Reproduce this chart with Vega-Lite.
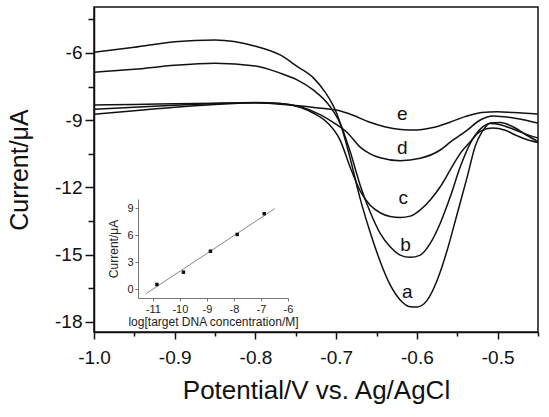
{
  "$schema": "https://vega.github.io/schema/vega-lite/v6.json",
  "autosize": {"type": "none"},
  "width": 444,
  "height": 325,
  "padding": {"left": 94, "top": 7, "right": 11, "bottom": 85},
  "background": "white",
  "config": {
    "view": {"stroke": "#111", "strokeWidth": 1.5},
    "font": "Liberation Sans",
    "axis": {"grid": false, "labelFont": "Liberation Sans", "titleFont": "Liberation Sans", "titleFontWeight": "normal"}
  },
  "datasets": {
    "curves": [
      {"curve": "a", "V": -1.0, "I": -5.97}, {"curve": "a", "V": -0.95, "I": -5.75}, {"curve": "a", "V": -0.9, "I": -5.5}, {"curve": "a", "V": -0.85, "I": -5.42}, {"curve": "a", "V": -0.8, "I": -5.7}, {"curve": "a", "V": -0.7694, "I": -6.09}, {"curve": "a", "V": -0.7484, "I": -6.6}, {"curve": "a", "V": -0.7285, "I": -7.1}, {"curve": "a", "V": -0.7137, "I": -7.75}, {"curve": "a", "V": -0.7037, "I": -8.35}, {"curve": "a", "V": -0.6988, "I": -8.75}, {"curve": "a", "V": -0.6914, "I": -9.55}, {"curve": "a", "V": -0.6827, "I": -10.7}, {"curve": "a", "V": -0.6703, "I": -12.5}, {"curve": "a", "V": -0.6579, "I": -14.0}, {"curve": "a", "V": -0.6455, "I": -15.3}, {"curve": "a", "V": -0.6331, "I": -16.35}, {"curve": "a", "V": -0.6207, "I": -17.02}, {"curve": "a", "V": -0.6083, "I": -17.32}, {"curve": "a", "V": -0.5996, "I": -17.33}, {"curve": "a", "V": -0.5872, "I": -17.03}, {"curve": "a", "V": -0.5748, "I": -16.13}, {"curve": "a", "V": -0.5624, "I": -14.79}, {"curve": "a", "V": -0.55, "I": -13.16}, {"curve": "a", "V": -0.5376, "I": -11.52}, {"curve": "a", "V": -0.5277, "I": -10.15}, {"curve": "a", "V": -0.519, "I": -9.5}, {"curve": "a", "V": -0.5091, "I": -9.12}, {"curve": "a", "V": -0.4967, "I": -9.1}, {"curve": "a", "V": -0.4781, "I": -9.35}, {"curve": "a", "V": -0.465, "I": -9.65}, {"curve": "a", "V": -0.45, "I": -9.95},
      {"curve": "b", "V": -1.0, "I": -6.86}, {"curve": "b", "V": -0.95, "I": -6.73}, {"curve": "b", "V": -0.9, "I": -6.55}, {"curve": "b", "V": -0.85, "I": -6.46}, {"curve": "b", "V": -0.8, "I": -6.58}, {"curve": "b", "V": -0.7694, "I": -6.9}, {"curve": "b", "V": -0.7484, "I": -7.2}, {"curve": "b", "V": -0.7285, "I": -7.65}, {"curve": "b", "V": -0.7074, "I": -8.4}, {"curve": "b", "V": -0.695, "I": -9.15}, {"curve": "b", "V": -0.6827, "I": -10.4}, {"curve": "b", "V": -0.6703, "I": -11.9}, {"curve": "b", "V": -0.6579, "I": -13.1}, {"curve": "b", "V": -0.6455, "I": -14.05}, {"curve": "b", "V": -0.6331, "I": -14.65}, {"curve": "b", "V": -0.6207, "I": -15.02}, {"curve": "b", "V": -0.6083, "I": -15.12}, {"curve": "b", "V": -0.5958, "I": -15.02}, {"curve": "b", "V": -0.5835, "I": -14.5}, {"curve": "b", "V": -0.5711, "I": -13.6}, {"curve": "b", "V": -0.5587, "I": -12.42}, {"curve": "b", "V": -0.5463, "I": -11.08}, {"curve": "b", "V": -0.5339, "I": -10.03}, {"curve": "b", "V": -0.5215, "I": -9.4}, {"curve": "b", "V": -0.5091, "I": -9.15}, {"curve": "b", "V": -0.4967, "I": -9.2}, {"curve": "b", "V": -0.4781, "I": -9.44}, {"curve": "b", "V": -0.465, "I": -9.62}, {"curve": "b", "V": -0.45, "I": -9.8},
      {"curve": "c", "V": -1.0, "I": -8.74}, {"curve": "c", "V": -0.95, "I": -8.58}, {"curve": "c", "V": -0.9, "I": -8.42}, {"curve": "c", "V": -0.85, "I": -8.3}, {"curve": "c", "V": -0.8, "I": -8.22}, {"curve": "c", "V": -0.7694, "I": -8.25}, {"curve": "c", "V": -0.7446, "I": -8.42}, {"curve": "c", "V": -0.7285, "I": -8.68}, {"curve": "c", "V": -0.7112, "I": -9.1}, {"curve": "c", "V": -0.695, "I": -9.9}, {"curve": "c", "V": -0.6827, "I": -11.1}, {"curve": "c", "V": -0.6703, "I": -12.15}, {"curve": "c", "V": -0.6579, "I": -12.8}, {"curve": "c", "V": -0.6455, "I": -13.13}, {"curve": "c", "V": -0.6331, "I": -13.3}, {"curve": "c", "V": -0.6207, "I": -13.34}, {"curve": "c", "V": -0.6083, "I": -13.28}, {"curve": "c", "V": -0.5958, "I": -13.0}, {"curve": "c", "V": -0.5835, "I": -12.56}, {"curve": "c", "V": -0.5711, "I": -11.97}, {"curve": "c", "V": -0.5587, "I": -11.22}, {"curve": "c", "V": -0.5463, "I": -10.48}, {"curve": "c", "V": -0.5339, "I": -9.96}, {"curve": "c", "V": -0.5215, "I": -9.5}, {"curve": "c", "V": -0.5066, "I": -9.35}, {"curve": "c", "V": -0.4905, "I": -9.45}, {"curve": "c", "V": -0.4781, "I": -9.66}, {"curve": "c", "V": -0.465, "I": -9.85}, {"curve": "c", "V": -0.45, "I": -10.0},
      {"curve": "d", "V": -1.0, "I": -8.51}, {"curve": "d", "V": -0.95, "I": -8.42}, {"curve": "d", "V": -0.9, "I": -8.33}, {"curve": "d", "V": -0.85, "I": -8.26}, {"curve": "d", "V": -0.8, "I": -8.21}, {"curve": "d", "V": -0.7694, "I": -8.25}, {"curve": "d", "V": -0.7446, "I": -8.4}, {"curve": "d", "V": -0.7198, "I": -8.75}, {"curve": "d", "V": -0.7037, "I": -9.1}, {"curve": "d", "V": -0.6864, "I": -9.55}, {"curve": "d", "V": -0.6703, "I": -10.2}, {"curve": "d", "V": -0.6579, "I": -10.5}, {"curve": "d", "V": -0.6455, "I": -10.68}, {"curve": "d", "V": -0.6207, "I": -10.81}, {"curve": "d", "V": -0.5958, "I": -10.7}, {"curve": "d", "V": -0.5711, "I": -10.33}, {"curve": "d", "V": -0.5587, "I": -9.98}, {"curve": "d", "V": -0.5376, "I": -9.44}, {"curve": "d", "V": -0.5215, "I": -8.99}, {"curve": "d", "V": -0.5054, "I": -8.81}, {"curve": "d", "V": -0.4806, "I": -8.9}, {"curve": "d", "V": -0.465, "I": -9.0}, {"curve": "d", "V": -0.45, "I": -9.13},
      {"curve": "e", "V": -1.0, "I": -8.32}, {"curve": "e", "V": -0.95, "I": -8.3}, {"curve": "e", "V": -0.9, "I": -8.27}, {"curve": "e", "V": -0.85, "I": -8.24}, {"curve": "e", "V": -0.8, "I": -8.22}, {"curve": "e", "V": -0.75, "I": -8.35}, {"curve": "e", "V": -0.725, "I": -8.44}, {"curve": "e", "V": -0.7, "I": -8.55}, {"curve": "e", "V": -0.68, "I": -8.77}, {"curve": "e", "V": -0.66, "I": -9.07}, {"curve": "e", "V": -0.64, "I": -9.29}, {"curve": "e", "V": -0.62, "I": -9.41}, {"curve": "e", "V": -0.6, "I": -9.44}, {"curve": "e", "V": -0.58, "I": -9.33}, {"curve": "e", "V": -0.56, "I": -9.1}, {"curve": "e", "V": -0.54, "I": -8.84}, {"curve": "e", "V": -0.52, "I": -8.66}, {"curve": "e", "V": -0.5, "I": -8.62}, {"curve": "e", "V": -0.48, "I": -8.66}, {"curve": "e", "V": -0.45, "I": -8.72}
    ],
    "labels": [
      {"label": "a", "V": -0.612, "I": -16.67},
      {"label": "b", "V": -0.614, "I": -14.57},
      {"label": "c", "V": -0.617, "I": -12.47},
      {"label": "d", "V": -0.618, "I": -10.24},
      {"label": "e", "V": -0.618, "I": -8.72}
    ],
    "calib": [
      {"logC": -10.85, "dI": 0.5},
      {"logC": -9.87, "dI": 1.87},
      {"logC": -8.87, "dI": 4.2},
      {"logC": -7.88, "dI": 6.06},
      {"logC": -6.88, "dI": 8.37}
    ],
    "fit": [
      {"logC": -11.27, "dI": -0.55},
      {"logC": -6.49, "dI": 8.93}
    ]
  },
  "layer": [
    {
      "encoding": {
        "x": {
          "field": "V", "type": "quantitative",
          "scale": {"domain": [-1.0, -0.45], "nice": false, "zero": false},
          "axis": {
            "title": "Potential/V vs. Ag/AgCl",
            "titleFontSize": 26, "titleColor": "#111", "titlePadding": 10,
            "values": [-1.0, -0.95, -0.9, -0.85, -0.8, -0.75, -0.7, -0.65, -0.6, -0.55, -0.5, -0.45],
            "format": ".1f",
            "labelExpr": "abs(datum.value*10 - round(datum.value*10)) < 0.001 ? replace(datum.label, '\u2212', '-') : ''",
            "labelFontSize": 19, "labelColor": "#111", "labelPadding": 9, "labelOverlap": false, "labelFlush": false,
            "domainColor": "#111", "domainWidth": 1.5,
            "tickColor": "#111", "tickWidth": 1.5,
            "tickSize": {"condition": {"test": "abs(datum.value*10 - round(datum.value*10)) < 0.001", "value": 7}, "value": 4}
          }
        },
        "y": {
          "field": "I", "type": "quantitative",
          "scale": {"domain": [-18.45, -3.95], "nice": false, "zero": false},
          "axis": {
            "title": "Current/\u03bcA",
            "titleFontSize": 25, "titleColor": "#111", "titlePadding": 22,
            "values": [-18, -16.5, -15, -13.5, -12, -10.5, -9, -7.5, -6, -4.5],
            "format": "d",
            "labelExpr": "datum.value % 3 == 0 ? replace(datum.label, '\u2212', '-') : ''",
            "labelFontSize": 19, "labelColor": "#111", "labelPadding": 3, "labelOverlap": false,
            "domainColor": "#111", "domainWidth": 1.5,
            "tickColor": "#111", "tickWidth": 1.5,
            "tickSize": {"condition": {"test": "datum.value % 3 == 0", "value": 9}, "value": 6}
          }
        }
      },
      "layer": [
        {
          "data": {"name": "curves"},
          "mark": {"type": "line", "color": "#111", "strokeWidth": 1.5, "interpolate": "monotone", "clip": true},
          "encoding": {"detail": {"field": "curve", "type": "nominal"}, "order": {"field": "V", "type": "quantitative"}}
        },
        {
          "data": {"name": "labels"},
          "mark": {"type": "text", "fontSize": 19, "color": "#111", "font": "Liberation Sans", "baseline": "middle", "align": "center"},
          "encoding": {"text": {"field": "label", "type": "nominal"}}
        }
      ]
    },
    {
      "encoding": {
        "x": {
          "field": "logC", "type": "quantitative",
          "scale": {"domain": [-11.55, -6], "range": [44, 194], "nice": false, "zero": false},
          "axis": {
            "orient": "bottom", "offset": -34,
            "title": "log[target DNA concentration/M]",
            "titleFontSize": 12, "titleColor": "#222", "titlePadding": 2,
            "values": [-11, -10, -9, -8, -7, -6],
            "format": "d",
            "labelExpr": "replace(datum.label, '\u2212', '-')",
            "labelFontSize": 11, "labelColor": "#222", "labelPadding": 2, "labelOverlap": false, "labelFlush": false,
            "domainColor": "#777", "domainWidth": 1, "tickColor": "#777", "tickSize": 3
          }
        },
        "y": {
          "field": "dI", "type": "quantitative",
          "scale": {"domain": [-1, 10], "range": [291, 192], "nice": false, "zero": false},
          "axis": {
            "orient": "left", "offset": -44,
            "title": "Current/\u03bcA",
            "titleFontSize": 12, "titleColor": "#222", "titlePadding": 6,
            "values": [0, 3, 6, 9],
            "labelFontSize": 11, "labelColor": "#222", "labelPadding": 2, "labelOverlap": false,
            "domainColor": "#777", "domainWidth": 1, "tickColor": "#777", "tickSize": 3
          }
        }
      },
      "layer": [
        {
          "data": {"name": "fit"},
          "mark": {"type": "line", "color": "#888", "strokeWidth": 1},
          "encoding": {}
        },
        {
          "data": {"name": "calib"},
          "mark": {"type": "square", "color": "#111", "filled": true, "size": 12, "opacity": 1},
          "encoding": {}
        }
      ]
    }
  ],
  "resolve": {"scale": {"x": "independent", "y": "independent"}, "axis": {"x": "independent", "y": "independent"}}
}
